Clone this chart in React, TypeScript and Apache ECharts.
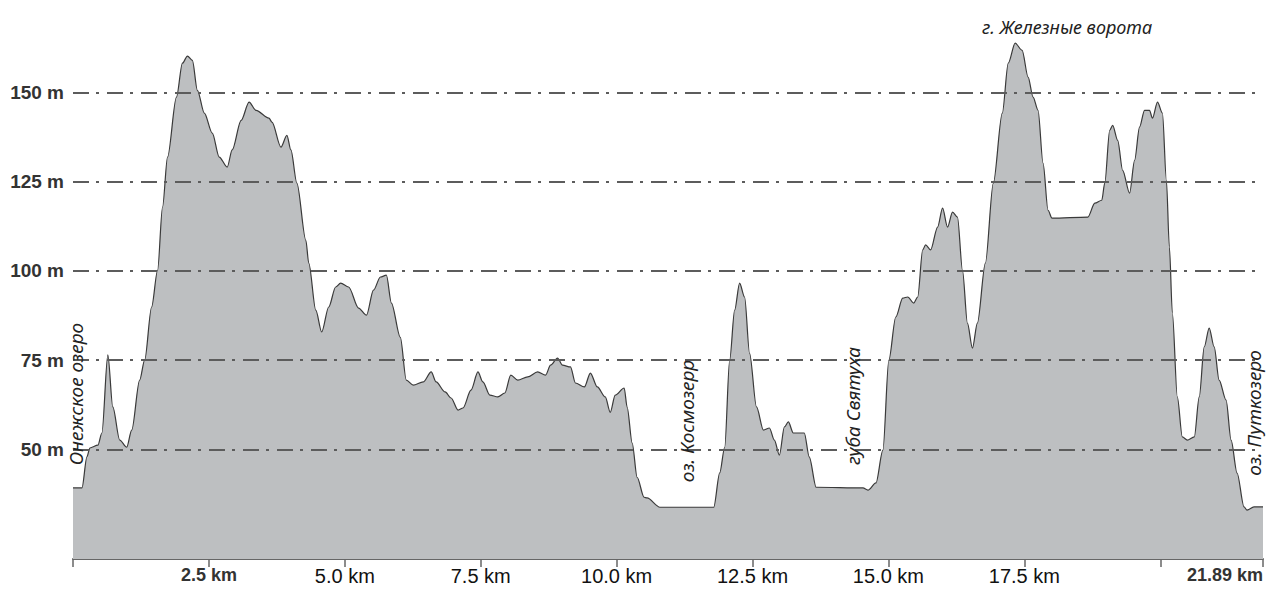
import React, { useEffect, useRef } from "react";
import * as echarts from "echarts";

// Distance along the route (km) and elevation (m)
const distKm = [
  0, 0.165, 0.256, 0.311, 0.458, 0.531, 0.641, 0.732, 0.86, 0.988, 1.08, 1.226, 1.318, 1.446, 1.556, 1.647,
  1.739, 1.903, 2.013, 2.105, 2.196, 2.288, 2.416, 2.562, 2.69, 2.837, 2.928, 3.093, 3.239, 3.367, 3.605,
  3.66, 3.825, 3.935, 4.008, 4.118, 4.283, 4.337, 4.466, 4.575, 4.704, 4.832, 4.923, 5.07, 5.253, 5.399,
  5.527, 5.655, 5.765, 5.857, 6.021, 6.131, 6.259, 6.442, 6.589, 6.68, 6.845, 6.955, 7.083, 7.174, 7.321,
  7.449, 7.54, 7.668, 7.815, 7.943, 8.053, 8.181, 8.364, 8.547, 8.693, 8.785, 8.913, 9.004, 9.151, 9.242,
  9.407, 9.517, 9.645, 9.791, 9.883, 9.974, 10.139, 10.194, 10.286, 10.377, 10.505, 10.56, 10.798, 11.786,
  11.896, 11.988, 12.079, 12.171, 12.262, 12.354, 12.445, 12.573, 12.701, 12.811, 12.902, 12.994, 13.086,
  13.159, 13.25, 13.452, 13.543, 13.671, 14.532, 14.623, 14.77, 14.898, 15.007, 15.135, 15.263, 15.355,
  15.465, 15.538, 15.63, 15.684, 15.776, 15.904, 15.996, 16.087, 16.179, 16.27, 16.362, 16.453, 16.545,
  16.636, 16.783, 16.929, 17.094, 17.204, 17.331, 17.459, 17.569, 17.661, 17.752, 17.844, 17.936, 18.009,
  18.668, 18.796, 18.924, 18.979, 19.07, 19.125, 19.217, 19.308, 19.436, 19.528, 19.619, 19.711, 19.802,
  19.857, 19.949, 20.04, 20.113, 20.168, 20.223, 20.314, 20.406, 20.498, 20.626, 20.717, 20.809, 20.9,
  20.992, 21.083, 21.211, 21.303, 21.413, 21.541, 21.596, 21.724, 21.89,
];
const elevM = [
  39.2, 39.2, 47.9, 50.4, 51.2, 54.6, 76.5, 61.9, 52.6, 50.6, 55.4, 69.4, 75.0, 89.9, 100.2, 117.9,
  131.9, 148.7, 158.2, 160.2, 159.0, 150.6, 144.2, 138.6, 131.9, 129.1, 133.9, 142.2, 147.3, 145.0, 142.8,
  141.7, 134.7, 138.0, 133.9, 124.6, 108.6, 102.2, 89.0, 82.9, 89.9, 95.5, 96.6, 95.5, 89.6, 87.6,
  94.6, 98.3, 98.8, 91.0, 81.4, 69.4, 68.0, 68.9, 71.7, 68.9, 66.1, 64.4, 61.0, 61.6, 66.6,
  71.7, 68.9, 65.2, 64.7, 65.8, 70.8, 69.4, 70.3, 71.7, 70.8, 73.6, 75.6, 73.6, 73.1, 68.6,
  67.5, 71.4, 67.5, 64.7, 60.4, 65.2, 67.2, 61.8, 51.8, 42.2, 36.6, 36.4, 33.8, 33.8,
  43.4, 50.6, 75.0, 89.0, 96.6, 92.7, 77.0, 61.9, 55.4, 56.0, 52.6, 48.4, 56.3,
  57.7, 54.6, 54.6, 47.9, 39.4, 39.2, 38.6, 40.6, 49.8, 75.0, 87.1, 92.4, 92.7,
  91.0, 92.7, 105.9, 107.3, 105.9, 112.3, 117.6, 112.3, 116.5, 115.1, 100.2, 85.4, 78.4,
  85.4, 102.2, 124.6, 144.2, 158.2, 163.8, 161.8, 154.3, 148.7, 145.0, 130.2, 117.0, 114.8,
  115.1, 119.0, 119.8, 124.6, 139.4, 140.8, 136.6, 128.2, 121.8, 131.0, 140.3, 145.0, 145.0,
  142.8, 147.3, 144.2, 125.4, 106.7, 88.2, 64.7, 53.5, 52.6, 53.5, 64.7, 78.7, 84.0,
  78.7, 69.4, 63.8, 52.6, 43.4, 33.9, 33.0, 33.9, 33.9,
];

const xTickValues = [0, 2.5, 5, 7.5, 10, 12.5, 15, 17.5, 20, 21.89];
const xLabelValues = [2.5, 5, 7.5, 10, 12.5, 15, 17.5, 21.89];
const xLabelTexts = ["2.5 km", "5.0 km", "7.5 km", "10.0 km", "12.5 km", "15.0 km", "17.5 km", "21.89 km"];
const xLabelBold = [true, false, false, false, false, false, false, true];
const yGridValues = [50, 75, 100, 125, 150];
const yLabelTexts = ["50 m", "75 m", "100 m", "125 m", "150 m"];

const placeNames = ["Онежское озеро", "оз. Космозерр", "губа Святуха", "оз. Путкозеро"];
const summitName = "г. Железные ворота";

export default function App() {
  const ref = useRef<HTMLDivElement>(null);

  useEffect(() => {
    document.body.style.margin = "0";
    if (!ref.current) return;
    const chart = echarts.init(ref.current, null, { renderer: "svg" });

    const italic = (size: number) => `italic ${size}px Noto Sans`;
    const rotated = (text: string, x: number, y: number) => ({
      type: "text",
      x,
      y,
      rotation: Math.PI / 2,
      z: 100,
      style: {
        text,
        font: italic(19),
        fill: "#222",
        align: "center",
        verticalAlign: "middle",
      },
    });

    chart.setOption({
      animation: false,
      grid: { left: 73, right: 0, top: 30, bottom: 37, containLabel: false },
      xAxis: {
        type: "value",
        min: 0,
        max: 21.89,
        splitLine: { show: false },
        axisLine: { show: true, lineStyle: { color: "#666", width: 2 } },
        axisTick: {
          show: true,
          customValues: xTickValues,
          length: 8,
          lineStyle: { color: "#666", width: 1.5 },
        },
        axisLabel: {
          customValues: xLabelValues,
          showMaxLabel: true,
          alignMaxLabel: "right",
          margin: 7,
          formatter: (v: number) => {
            const i = xLabelValues.findIndex((x) => Math.abs(x - v) < 1e-6);
            if (i < 0) return "";
            return xLabelBold[i] ? `{boldLbl|${xLabelTexts[i]}}` : `{plainLbl|${xLabelTexts[i]}}`;
          },
          rich: {
            boldLbl: {
              fontFamily: "Liberation Sans",
              fontWeight: "bold",
              fontSize: 18,
              color: "#333",
            },
            plainLbl: {
              fontFamily: "Liberation Sans",
              fontWeight: "normal",
              fontSize: 20,
              color: "#111",
            },
          },
        },
      },
      yAxis: {
        type: "value",
        min: 19.3,
        max: 167.5,
        axisLine: { show: false },
        axisTick: { show: false },
        axisLabel: { show: false },
        splitLine: { show: false },
      },
      series: [
        {
          type: "line",
          data: distKm.map((d, i) => [d, elevM[i]]),
          showSymbol: false,
          symbol: "none",
          smooth: 0.3,
          smoothMonotone: "x",
          lineStyle: { color: "#3a3a3a", width: 1.2 },
          areaStyle: { color: "#bdbfc1", opacity: 1 },
          markLine: {
            silent: true,
            symbol: "none",
            animation: false,
            lineStyle: { color: "#5c5c5c", width: 2, type: [16, 7, 3, 8] },
            label: {
              position: "start",
              distance: 9,
              formatter: (p: any) => {
                const i = yGridValues.indexOf(Number(p.value));
                return i >= 0 ? yLabelTexts[i] : "";
              },
              fontFamily: "Liberation Sans",
              fontWeight: "bold",
              fontSize: 19,
              color: "#333",
            },
            emphasis: { disabled: true },
            data: yGridValues.map((v) => ({ yAxis: v })),
          },
        },
      ],
      graphic: [
        rotated(placeNames[0], 76, 394),
        rotated(placeNames[1], 687, 421),
        rotated(placeNames[2], 853, 406),
        rotated(placeNames[3], 1254, 413),
        {
          type: "text",
          x: 1067,
          y: 27,
          z: 100,
          style: {
            text: summitName,
            font: italic(18),
            fill: "#222",
            align: "center",
            verticalAlign: "middle",
          },
        },
      ],
    });

    return () => chart.dispose();
  }, []);

  return <div ref={ref} style={{ width: 1266, height: 596 }} />;
}
